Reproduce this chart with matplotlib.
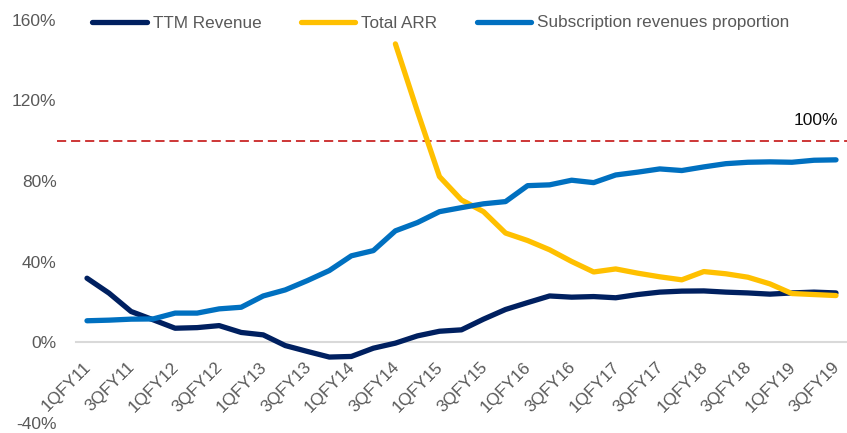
import numpy as np
import matplotlib.pyplot as plt
import matplotlib.transforms as mtransforms
from matplotlib.ticker import FuncFormatter

plt.rcParams['font.family'] = ['Liberation Sans', 'DejaVu Sans']

# ── Data ──────────────────────────────────────────────────────────────────────
quarters = [f'{q}QFY{y}' for y in range(11, 20) for q in (1, 2, 3, 4)][:35]

ttm_revenue = [31.8, 24.4, 15.3, 11.2, 7.0, 7.3, 8.3, 4.9, 3.7, -1.6,
               -4.5, -7.3, -7.0, -2.9, -0.4, 3.2, 5.5, 6.2, 11.5, 16.3,
               19.7, 23.0, 22.4, 22.7, 22.1, 23.7, 24.9, 25.4, 25.5, 24.9,
               24.5, 23.9, 24.5, 24.9, 24.5]

total_arr = [np.nan] * 14 + [148.0, 114.5, 82.2, 70.6, 64.8, 54.2,
                             50.5, 45.9, 40.1, 34.9, 36.4, 34.3, 32.5, 31.0, 35.1, 34.0,
                             32.3, 29.0, 24.2, 23.7, 23.2]

subscription = [10.7, 11.0, 11.5, 11.6, 14.5, 14.5, 16.6, 17.4, 23.0, 26.0,
                30.6, 35.6, 42.9, 45.5, 55.3, 59.4, 64.8, 66.8, 68.7, 69.8,
                77.7, 78.1, 80.4, 79.2, 83.0, 84.4, 86.0, 85.2, 87.0, 88.6,
                89.3, 89.5, 89.3, 90.3, 90.5]

series_names = ['TTM Revenue', 'Total ARR', 'Subscription revenues proportion']
series_colors = ['#002060', '#FFC000', '#0070C0']

y_ticks = [-40, 0, 40, 80, 120, 160]
threshold = 100

# ── Figure ────────────────────────────────────────────────────────────────────
fig = plt.figure(figsize=(8.47, 4.33), dpi=100)
ax = fig.add_axes([0.0897, 0.0231, 0.9103, 0.9314])

x = np.arange(len(quarters))
for vals, name, col in zip([ttm_revenue, total_arr, subscription], series_names, series_colors):
    ax.plot(x, vals, color=col, lw=3.8, label=name, solid_capstyle='round',
            solid_joinstyle='round', zorder=3)

# dashed 100% reference line (starts a bit left of the plot area)
ax.axhline(threshold, xmin=-0.025, xmax=1, color='#C00000', lw=1.1,
           dashes=(6, 3.2), clip_on=False, zorder=2)
ax.text(0.988, 110, f'{threshold}%', transform=ax.get_yaxis_transform(),
        ha='right', va='center', fontsize=12.5, color='#0D0D0D')

# axis line sits at 0% (set before the tick labels: it resets the ticks)
for side in ('top', 'right', 'left'):
    ax.spines[side].set_visible(False)
ax.spines['bottom'].set_position(('data', 0))
ax.spines['bottom'].set_color('#D9D9D9')
ax.spines['bottom'].set_linewidth(1.5)
ax.spines['bottom'].set_zorder(1)

ax.set_xlim(-0.5, len(quarters) - 0.5)
ax.set_ylim(-40, 160)
ax.set_yticks(y_ticks)
ax.yaxis.set_major_formatter(FuncFormatter(lambda v, _: f'{v:.0f}%'))

ax.set_xticks(x[::2])
ax.set_xticklabels(quarters[::2])

ax.tick_params(axis='y', length=0, pad=14, labelsize=12.5, labelcolor='#595959')
ax.tick_params(axis='x', length=0, pad=12, labelsize=12.3, labelcolor='#595959')
shift = mtransforms.ScaledTranslation(-4 / 100, 0, fig.dpi_scale_trans)
for lbl in ax.get_xticklabels():
    lbl.set_rotation(45)
    lbl.set_ha('right')
    lbl.set_rotation_mode('anchor')
    lbl.set_transform(lbl.get_transform() + shift)

leg = ax.legend(loc='center left', bbox_to_anchor=(92 / 847, 1 - 23 / 433),
                bbox_transform=fig.transFigure, ncol=3, frameon=False,
                fontsize=12.3, handlelength=3.2, handletextpad=0.35,
                columnspacing=2.3, borderpad=0, borderaxespad=0)
for t in leg.get_texts():
    t.set_color('#595959')

fig.savefig('out.png', dpi=100)
